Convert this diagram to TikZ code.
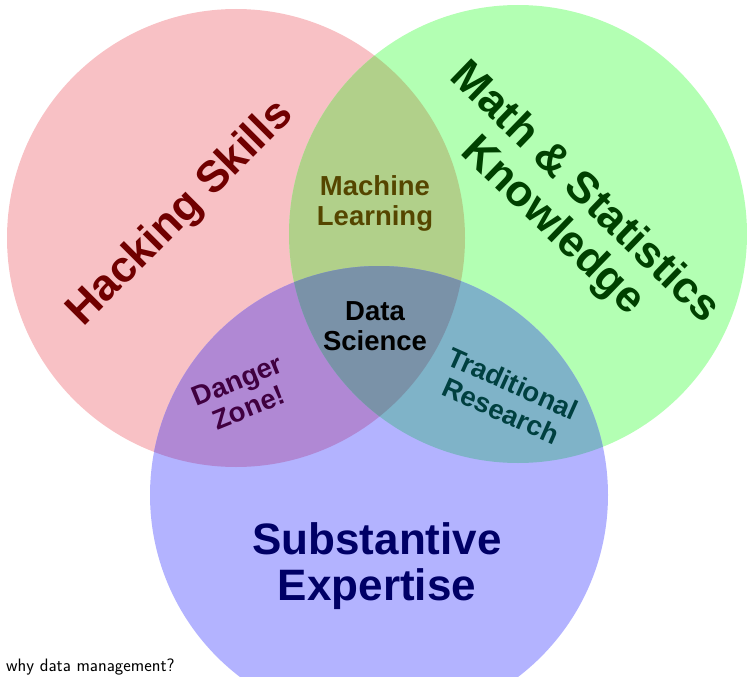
\documentclass[tikz,border=0pt]{standalone}
\usepackage{fontspec}
\usepackage{tikz}
\usetikzlibrary{positioning, calc}
\newfontfamily\vennfont{Liberation Sans}

\definecolor{hackfill}{RGB}{248, 193, 197}
\definecolor{mathfill}{RGB}{179, 255, 179}
\definecolor{substfill}{RGB}{179, 179, 255}
\definecolor{mlfill}{RGB}{177, 208, 138}
\definecolor{dangerfill}{RGB}{176, 136, 212}
\definecolor{tradfill}{RGB}{127, 179, 200}
\definecolor{dsfill}{RGB}{122, 146, 168}
\definecolor{hacktext}{RGB}{112, 0, 0}
\definecolor{mathtext}{RGB}{0, 64, 0}
\definecolor{substtext}{RGB}{0, 0, 102}
\definecolor{mltext}{RGB}{85, 70, 0}
\definecolor{dangertext}{RGB}{64, 0, 64}
\definecolor{tradtext}{RGB}{0, 64, 64}

\tikzset{
    vlabel/.style={align=center, inner sep=0pt},
    bigfont/.style={font=\vennfont\bfseries\fontsize{44}{46}\selectfont},
    midfont/.style={font=\vennfont\bfseries\fontsize{27.5}{30}\selectfont},
}

\begin{document}
\begin{tikzpicture}[x=1pt, y=-1pt]
    \def\rr{229pt}
    \useasboundingbox (0,0) rectangle (747,677);

    % Mittelpunkte der drei Kreise
    \coordinate (hack) at (236, 238);
    \coordinate (math) at (518, 234);
    \coordinate (subst) at (379, 495);

    % 1. Kreise
    \fill[hackfill] (hack) circle[radius=\rr];
    \fill[mathfill] (math) circle[radius=\rr];
    \fill[substfill] (subst) circle[radius=\rr];

    % 2. Schnittflaechen
    \begin{scope}
        \clip (hack) circle[radius=\rr];
        \fill[mlfill] (math) circle[radius=\rr];
        \fill[dangerfill] (subst) circle[radius=\rr];
    \end{scope}
    \begin{scope}
        \clip (math) circle[radius=\rr];
        \fill[tradfill] (subst) circle[radius=\rr];
        \clip (subst) circle[radius=\rr];
        \fill[dsfill] (hack) circle[radius=\rr];
    \end{scope}

    % 3. Beschriftungen
    \node[vlabel, bigfont, text=hacktext, rotate=45] (lbl_hack) at (181, 214) {Hacking Skills};
    \node[vlabel, bigfont, text=mathtext, rotate=-44] (lbl_math) at (568, 210) {Math \& Statistics\\Knowledge};
    \node[vlabel, bigfont, text=substtext] (lbl_subst) at (377, 566) {Substantive\\Expertise};
    \node[vlabel, midfont, text=mltext] (lbl_ml) at (375, 203) {Machine\\Learning};
    \node[vlabel, midfont, text=black] (lbl_ds) at (375, 326) {Data\\Science};
    \node[vlabel, midfont, text=dangertext, rotate=22] (lbl_danger) at (243, 394) {Danger\\Zone!};
    \node[vlabel, midfont, text=tradtext, rotate=-24] (lbl_trad) at (507, 397) {Traditional\\Research};

    % Fusszeile
    \node[anchor=base west, inner sep=0pt, font=\sffamily\fontsize{18}{20}\selectfont] (caption) at (6, 671) {why data management?};
\end{tikzpicture}
\end{document}
